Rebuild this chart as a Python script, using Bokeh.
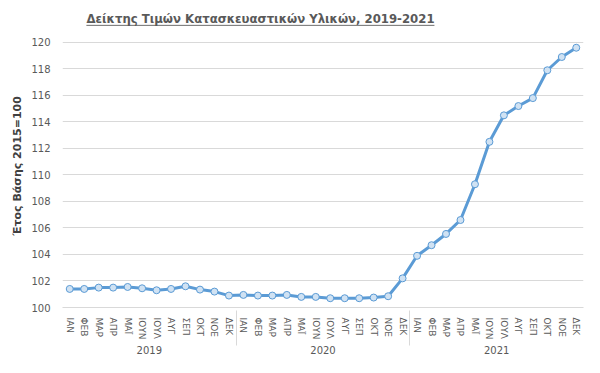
from bokeh.plotting import figure
from bokeh.models import FactorRange, Range1d, FixedTicker, BoxAnnotation, ColumnDataSource
from bokeh.embed import file_html
from bokeh.resources import INLINE

years = ["2019", "2020", "2021"]
months = ["ΙΑΝ", "ΦΕΒ", "ΜΑΡ", "ΑΠΡ", "ΜΑΪ", "ΙΟΥΝ", "ΙΟΥΛ", "ΑΥΓ", "ΣΕΠ", "ΟΚΤ", "ΝΟΕ", "ΔΕΚ"]
values_2019 = [101.4, 101.4, 101.5, 101.5, 101.55, 101.45, 101.3, 101.4, 101.6, 101.35, 101.2, 100.9]
values_2020 = [100.95, 100.9, 100.9, 100.95, 100.8, 100.8, 100.7, 100.7, 100.7, 100.75, 100.85, 102.2]
values_2021 = [103.9, 104.7, 105.55, 106.6, 109.3, 112.5, 114.5, 115.2, 115.8, 117.9, 118.9, 119.6]
y_ticks = [100, 102, 104, 106, 108, 110, 112, 114, 116, 118, 120]
title_text = "Δείκτης Τιμών Κατασκευαστικών Υλικών, 2019-2021"
y_label = "Έτος Βάσης 2015=100"

factors = [(y, m) for y in years for m in months]
values = values_2019 + values_2020 + values_2021
src = ColumnDataSource(data=dict(x=factors, y=values))

FONT = "DejaVu Sans"
GREY = "#595959"
BLUE = "#5b9bd5"

# pixel layout
PX_PER_UNIT = 13.3
TOP_PAD_PX = 18.0  # space inside frame above the 120 gridline (holds title underline)

p = figure(width=584, height=357,
           x_range=FactorRange(*factors, factor_padding=0, group_padding=0,
                               subgroup_padding=0, range_padding=0),
           y_range=Range1d(100, 120 + TOP_PAD_PX / PX_PER_UNIT),
           output_backend="svg", toolbar_location=None,
           min_border_left=62, min_border_right=1, min_border_top=24, min_border_bottom=49)

p.background_fill_color = "white"
p.border_fill_color = "white"
p.outline_line_color = None

p.title.text = title_text
p.title.text_font = "DejaVu Sans Condensed, DejaVu Sans"
p.title.text_font_size = "13px"
p.title.text_font_style = "bold"
p.title.text_color = GREY
p.title.align = "left"
p.title.offset = 24
p.title.standoff = -3

p.xgrid.visible = False
p.ygrid.grid_line_color = "#d9d9d9"
p.ygrid.grid_line_width = 1

xa = p.xaxis[0]
xa.major_label_orientation = "vertical"
xa.major_label_text_font = FONT
xa.major_label_text_font_size = "9px"
xa.major_label_text_color = GREY
xa.major_label_standoff = 4
xa.group_text_font = FONT
xa.group_text_font_size = "10px"
xa.group_text_font_style = "normal"
xa.group_text_color = GREY
xa.group_label_orientation = "horizontal"
xa.axis_line_color = "#d9d9d9"
xa.major_tick_line_color = None
xa.minor_tick_line_color = None
xa.separator_line_color = "#d9d9d9"
xa.separator_line_width = 1

ya = p.yaxis[0]
ya.ticker = FixedTicker(ticks=y_ticks)
ya.axis_line_color = None
ya.major_tick_line_color = None
ya.minor_tick_line_color = None
ya.major_label_standoff = 6
ya.major_label_text_font = FONT
ya.major_label_text_font_size = "10px"
ya.major_label_text_color = GREY
ya.axis_label = y_label
ya.axis_label_text_font = FONT
ya.axis_label_text_font_size = "11px"
ya.axis_label_text_font_style = "bold"
ya.axis_label_text_color = "#404040"
ya.axis_label_standoff = 4

p.line(x="x", y="y", source=src, line_color=BLUE, line_width=3)
p.scatter(x="x", y="y", source=src, marker="circle", size=7,
          line_color=BLUE, fill_color="#d0e2f3", line_width=1)

# title underline, just inside the top of the frame
y_top = 120 + TOP_PAD_PX / PX_PER_UNIT
underline = BoxAnnotation(left=1.65, right=25.7, top=y_top - 0.2 / PX_PER_UNIT,
                          bottom=y_top - 1.3 / PX_PER_UNIT,
                          fill_color=GREY, fill_alpha=1, line_color=None)
p.add_layout(underline)

open("out.html", "w").write(file_html(p, INLINE))
